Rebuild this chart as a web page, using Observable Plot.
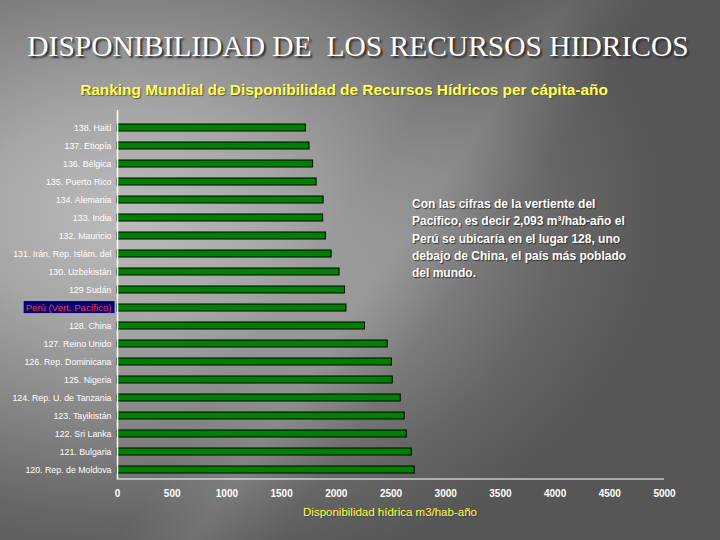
<!DOCTYPE html>
<html><head><meta charset="utf-8">
<script src="https://cdn.jsdelivr.net/npm/d3@7"></script>
<script src="https://cdn.jsdelivr.net/npm/@observablehq/plot@0.6"></script>
<style>
html,body{margin:0;padding:0;}
body{width:720px;height:540px;position:relative;overflow:hidden;
 font-family:"Liberation Sans",Arial,sans-serif;
 background:
  linear-gradient(125deg, rgba(255,255,255,0) 45%, rgba(255,255,255,0.10) 52%, rgba(255,255,255,0) 60%),
  radial-gradient(ellipse 75% 70% at 18% 40%, #bcbcbc 0%, #a6a6a6 28%, #858585 55%, #666 80%, #565656 100%);}
#chart{position:absolute;left:0;top:0;}
#title{position:absolute;left:0;width:716px;top:30px;text-align:center;font-family:"Liberation Serif","Times New Roman",serif;font-size:29.5px;color:#fff;text-shadow:2px 2px 2px #2a2a2a;white-space:pre;}
#subtitle{position:absolute;left:0;width:688px;top:81px;text-align:center;font-size:15.4px;font-weight:bold;color:#ffff55;text-shadow:1px 1px 1px #555;white-space:nowrap;}
#xlabel{position:absolute;left:290px;width:200px;top:506px;text-align:center;font-size:11.5px;color:#ffff44;text-shadow:1px 1px 1px #444;white-space:nowrap;}
#note{position:absolute;left:412px;top:196px;font-size:12px;font-weight:bold;line-height:17.3px;color:#fff;text-shadow:1px 1px 1px #333;white-space:nowrap;}
</style></head>
<body>
<div id="chart"></div>
<div id="title">DISPONIBILIDAD DE  LOS RECURSOS HIDRICOS</div>
<div id="subtitle">Ranking Mundial de Disponibilidad de Recursos Hídricos per cápita-año</div>
<div id="xlabel">Disponibilidad hídrica m3/hab-año</div>
<div id="note">Con las cifras de la vertiente del<br>Pacífico, es decir 2,093 m³/hab-año el<br>Perú se ubicaría en el lugar 128, uno<br>debajo de China, el país más poblado<br>del mundo.</div>
<script>
const countries = [
 "138. Haití","137. Etiopía","136. Bélgica","135. Puerto Rico","134. Alemania",
 "133. India","132. Mauricio","131. Irán, Rep. Islám. del","130. Uzbekistán","129 Sudán",
 "Perú (Vert. Pacífico)","128. China","127. Reino Unido","126. Rep. Dominicana","125. Nigeria",
 "124. Rep. U. de Tanzania","123. Tayikistán","122. Sri Lanka","121. Bulgaria","120. Rep. de Moldova"
];
const values = [1722,1755,1788,1820,1884,1880,1905,1957,2030,2079,2093,2262,2470,2509,2516,2589,2625,2644,2690,2717];
const xTicks = [0,500,1000,1500,2000,2500,3000,3500,4000,4500,5000];
const highlight = "Perú (Vert. Pacífico)";

const data = countries.map((c,i)=>({country:c, value:values[i]}));
const chart = Plot.plot({
  width:720, height:540,
  marginLeft:117, marginRight:56, marginTop:118, marginBottom:61,
  style:{background:"transparent", fontFamily:"'Liberation Sans', Arial, sans-serif", overflow:"visible"},
  x:{domain:[0,5000]},
  y:{domain:countries, paddingInner:0.6, paddingOuter:0.3},
  marks:[
    Plot.barX(data,{x:"value", y:"country", fill:"#008000", stroke:"#000", strokeWidth:1}),
    Plot.ruleX([0],{stroke:"#fff", strokeWidth:1.5, insetTop:-8}),
    Plot.ruleY([countries[countries.length-1]],{stroke:"#fff", strokeWidth:1.2, dy:9}),
    Plot.axisX({ticks:xTicks, tickSize:0, tickPadding:10, fill:"#fff", fontWeight:"bold", fontSize:10, label:null, tickFormat:d=>String(d)}),
    Plot.axisY({tickSize:0, tickPadding:6, fill:"#fff", fontSize:8.8, label:null})
  ]
});
document.getElementById("chart").appendChild(chart);
d3.select(chart).selectAll("text").each(function(){
  if (this.textContent === highlight) {
    this.setAttribute("font-size", "9.6");
    const bb = this.getBBox();
    const r = document.createElementNS("http://www.w3.org/2000/svg","rect");
    r.setAttribute("x", bb.x-2); r.setAttribute("y", bb.y-1);
    r.setAttribute("width", bb.width+5); r.setAttribute("height", bb.height+1);
    r.setAttribute("fill", "#00007a");
    const t = this.getAttribute("transform"); if (t) r.setAttribute("transform", t);
    this.parentNode.insertBefore(r, this);
    this.setAttribute("fill", "#ff3a3a");
  }
});
</script>
</body></html>
